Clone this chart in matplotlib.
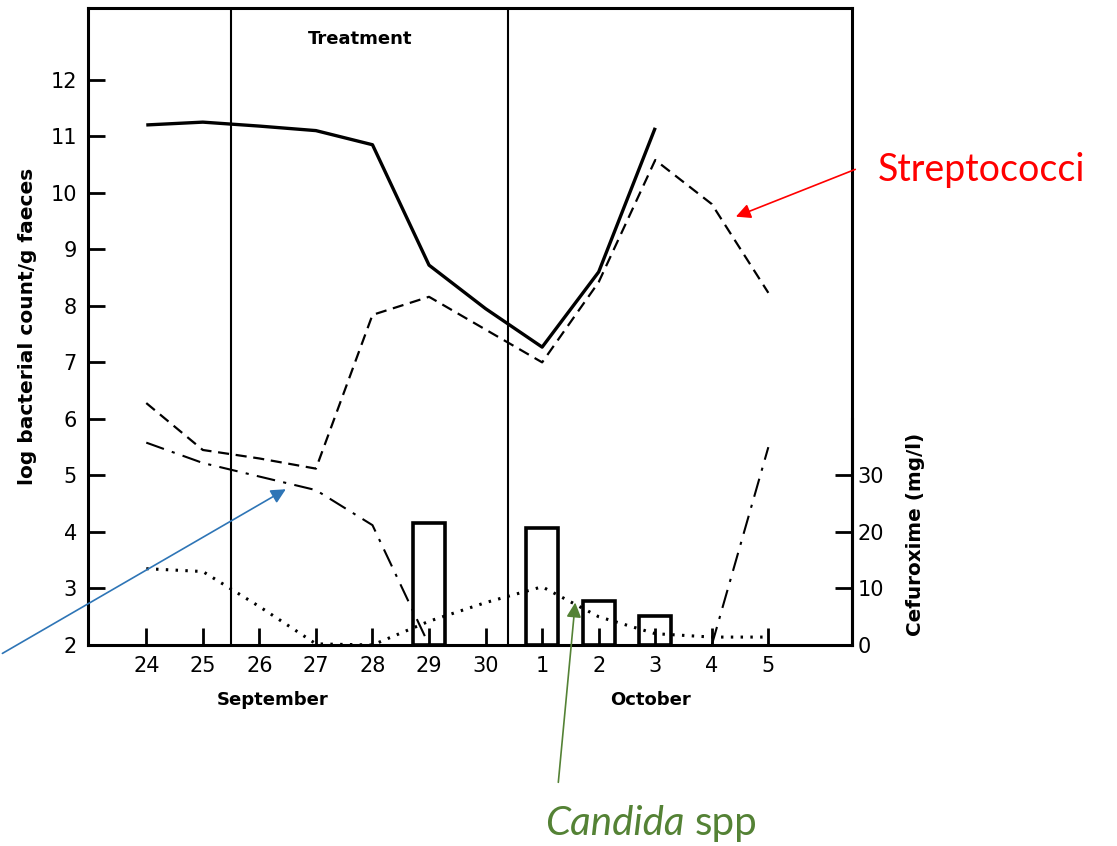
import numpy as np
from matplotlib import pyplot as plt

nan = np.nan

# x categories (September 24-30, October 1-5)
days = ["24", "25", "26", "27", "28", "29", "30", "1", "2", "3", "4", "5"]

# log bacterial count / g faeces
solid = [11.2, 11.25, 11.18, 11.1, 10.85, 8.72, 7.95, 7.27, 8.6, 11.15, nan, nan]
strepto = [6.28, 5.45, 5.3, 5.12, 7.84, 8.16, 7.58, 7.0, 8.42, 10.58, 9.8, 8.23]
dashdot = [5.58, 5.22, 4.98, 4.74, 4.12, 2.0, nan, nan, nan, nan, 2.0, 5.5]
candida = [3.35, 3.3, 2.68, 2.02, 2.0, 2.42, 2.75, 3.03, 2.5, 2.2, 2.14, 2.14]

# cefuroxime (mg/l)
cef_days = ["29", "1", "2", "3"]
cef_vals = [21.6, 20.7, 7.8, 5.2]

x = np.arange(len(days))
cef_x = [days.index(d) for d in cef_days]

fig = plt.figure(figsize=(11.17, 8.46), dpi=100)
ax = fig.add_axes([0.0788, 0.2376, 0.684, 0.753])

ax.plot(x, solid, color="black", lw=2.4, solid_capstyle="butt")
ax.plot(x, strepto, color="black", lw=1.6, linestyle=(0, (5, 3)))
ax.plot(x, dashdot, color="black", lw=1.5, linestyle=(0, (9, 4, 1.5, 4)))
ax.plot(x, candida, color="black", lw=2.2, linestyle=(0, (0.8, 2.4)))

# treatment period
ax.axvline(1.5, color="black", lw=1.5)
ax.axvline(6.4, color="black", lw=1.5)

ax.set_xlim(-1.03, 12.48)
ax.set_ylim(2, 13.27)
ax.set_xticks(x)
ax.set_xticklabels(days)
ax.set_yticks(range(2, 13))
ax.tick_params(direction="in", length=12, width=2, labelsize=15, pad=8)
for s in ax.spines.values():
    s.set_linewidth(2.2)

ax.set_ylabel("log bacterial count/g faeces", fontsize=14.5, fontweight="bold")
ax.yaxis.set_label_coords(-0.067, 0.5)
ax.text(3.78, 12.72, "Treatment", fontsize=13, fontweight="bold",
        ha="center", va="center")
ax.text(2.23, -0.086, "September", fontsize=13, fontweight="bold",
        ha="center", va="center", transform=ax.get_xaxis_transform())
ax.text(8.91, -0.086, "October", fontsize=13, fontweight="bold",
        ha="center", va="center", transform=ax.get_xaxis_transform())

# right axis: cefuroxime
ax2 = ax.twinx()
ax2.bar(cef_x, cef_vals, width=0.56, fill=False, edgecolor="black", lw=2.6)
ax2.set_ylim(0, 112.7)
ax2.set_yticks([0, 10, 20, 30])
ax2.spines["right"].set_bounds(0, 40)
ax2.spines["right"].set_linewidth(2.2)
for k in ["top", "left", "bottom"]:
    ax2.spines[k].set_visible(False)
ax2.tick_params(direction="in", length=12, width=2, labelsize=15, pad=4)
ax2.set_ylabel("Cefuroxime (mg/l)", fontsize=14.4, fontweight="bold")
ax2.yaxis.set_label_coords(1.071, 0.174)

# annotations
ax.annotate("", xy=(10.38, 9.56), xytext=(0.768, 0.801),
            textcoords="figure fraction",
            arrowprops=dict(arrowstyle="-|>", color="red", lw=1.2,
                            mutation_scale=22))
fig.text(0.786, 0.799, "Streptococci", color="red", fontsize=27,
         family="Lato", va="center", ha="left")

ax.annotate("", xy=(2.51, 4.78), xytext=(0.0, 0.226),
            textcoords="figure fraction", annotation_clip=False,
            arrowprops=dict(arrowstyle="-|>", color="#2E75B6", lw=1.2,
                            mutation_scale=22))

ax.annotate("", xy=(7.59, 2.8), xytext=(0.4996, 0.072),
            textcoords="figure fraction", annotation_clip=False,
            arrowprops=dict(arrowstyle="-|>", color="#548235", lw=1.2,
                            mutation_scale=22))
fig.text(0.613, 0.027, "Candida", color="#548235", fontsize=29,
         family="Lato", style="italic", va="center", ha="right")
fig.text(0.622, 0.027, "spp", color="#548235", fontsize=29,
         family="Lato", va="center", ha="left")

fig.savefig("out.png", dpi=100)
